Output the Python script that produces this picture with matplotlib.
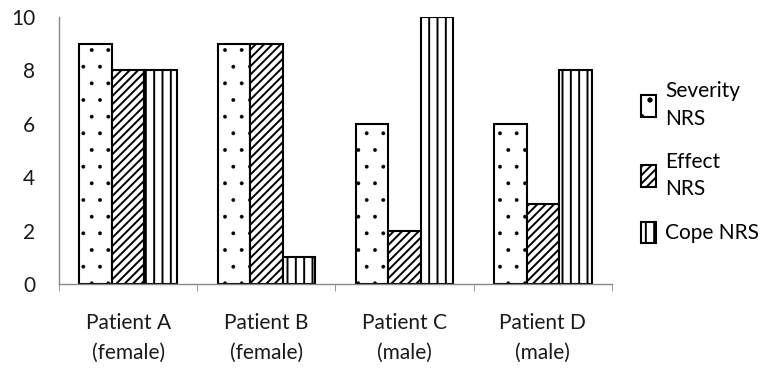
import matplotlib.pyplot as plt
import numpy as np

plt.rcParams["font.family"] = ["Lato", "DejaVu Sans"]

patients = ["Patient A\n(female)", "Patient B\n(female)", "Patient C\n(male)", "Patient D\n(male)"]
severity_nrs = [9, 9, 6, 6]
effect_nrs = [8, 9, 2, 3]
cope_nrs = [8, 1, 10, 8]
series_labels = ["Severity\nNRS", "Effect\nNRS", "Cope NRS"]
hatches = [".", "////", "||"]
hatch_widths = [0.3, 1.4, 1.4]

fig = plt.figure(figsize=(7.63, 3.69), dpi=100)
ax = fig.add_axes([0.0773, 0.2304, 0.7247, 0.7236])

x = np.arange(len(patients))
width = 0.235
handles = []
series = [severity_nrs, effect_nrs, cope_nrs]
for i, (vals, lab, h, hw) in enumerate(zip(series, series_labels, hatches, hatch_widths)):
    plt.rcParams["hatch.linewidth"] = hw
    bars = ax.bar(x + (i - 1) * width, vals, width, color="white", edgecolor="black",
                  hatch=h, linewidth=1.5, label=lab)
    handles.append(bars)

ax.set_xlim(-0.5, 3.5)
ax.set_ylim(0, 10)
ax.set_yticks(range(0, 11, 2))
ax.set_xticks(x)
ax.set_xticklabels(patients, fontsize=15, color="#1a1a1a", linespacing=1.6)
ax.set_xticks(np.arange(-0.5, 4, 1), minor=True)
ax.tick_params(axis="x", which="major", length=0, pad=21)
ax.tick_params(axis="x", which="minor", length=5, color="#888888")
ax.tick_params(axis="y", length=0, pad=17, labelsize=15, labelcolor="#1a1a1a")
for s in ["top", "right"]:
    ax.spines[s].set_visible(False)
for s in ["left", "bottom"]:
    ax.spines[s].set_color("#888888")
    ax.spines[s].set_linewidth(1.0)

leg = fig.legend(handles=handles, labels=series_labels, loc="center left",
                 bbox_to_anchor=(0.84, 0.56), frameon=False, fontsize=15,
                 handlelength=0.7, handleheight=1.2, handletextpad=0.45, labelspacing=1.1,
                 borderpad=0, borderaxespad=0)
for t in leg.get_texts():
    t.set_linespacing(1.45)

fig.savefig("out.png", dpi=100)
